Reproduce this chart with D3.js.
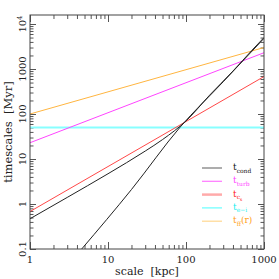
<!DOCTYPE html>
<html>
<head>
<meta charset="utf-8">
<script src="https://cdn.jsdelivr.net/npm/d3@7"></script>
<style>
  body { margin: 0; background: #fff; }
  text { font-family: "DejaVu Serif", "Liberation Serif", serif; }
</style>
</head>
<body>
<div id="chart"></div>
<script>
// chart size
var svgWidth = 279;
var svgHeight = 279;

var margin = { top: 15, right: 15, bottom: 30, left: 30 };
var chartWidth = svgWidth - margin.left - margin.right;
var chartHeight = svgHeight - margin.top - margin.bottom;

// data (scale in kpc, timescale in Myr)
var condScale = [1, 3, 10, 30, 50, 100, 200, 400, 700, 1000];
var condTime = [0.47, 1.4, 4.7, 15, 27, 70, 260, 900, 2600, 5000];
var cond2Scale = [4.6, 20, 84, 300, 1000];
var cond2Time = [0.1, 2.1, 51, 520, 4800];
var turbScale = [1, 1000];
var turbTime = [23, 2300];
var csScale = [1, 1000];
var csTime = [0.68, 680];
var eiScale = [1, 1000];
var eiTime = [50, 50];
var ffScale = [1, 1000];
var ffTime = [100, 3000];

var legendNames = ["cond", "turb", "cs", "e-i", "ff"];
var xTickValues = [1, 10, 100, 1000];
var xTickLabels = ["1", "10", "100", "1000"];
var yTickValues = [0.1, 1, 10, 100, 1000, 10000];
var yTickLabels = ["0.1", "1", "10", "100", "1000", "10⁴"];

var svg = d3.select("#chart")
  .append("svg")
  .attr("width", svgWidth)
  .attr("height", svgHeight);

var chartGroup = svg.append("g")
  .attr("transform", `translate(${margin.left}, ${margin.top})`);

var xScale = d3.scaleLog().domain([1, 1000]).range([0, chartWidth]);
var yScale = d3.scaleLog().domain([0.1, 15850]).range([chartHeight, 0]);

// minor tick lists
function minors(lo, hi) {
  var out = [];
  for (var p = Math.floor(Math.log10(lo)); p <= Math.ceil(Math.log10(hi)); p++) {
    for (var k = 2; k <= 9; k++) {
      var v = k * Math.pow(10, p);
      if (v > lo && v < hi) out.push(v);
    }
  }
  return out;
}
var xMinor = minors(1, 1000);
var yMinor = minors(0.1, 15850);

function addAxis(axis, ticks, size, transform) {
  var g = chartGroup.append("g")
    .attr("transform", transform)
    .call(axis.tickValues(ticks).tickSize(-size).tickFormat(""));
  g.select(".domain").remove();
  g.selectAll("line").attr("stroke", "#555");
  return g;
}

// ticks on all four sides, pointing inward
addAxis(d3.axisBottom(xScale), xTickValues, 7, `translate(0, ${chartHeight})`);
addAxis(d3.axisBottom(xScale), xMinor, 4, `translate(0, ${chartHeight})`);
addAxis(d3.axisTop(xScale), xTickValues, 7, "translate(0, 0)");
addAxis(d3.axisTop(xScale), xMinor, 4, "translate(0, 0)");
addAxis(d3.axisLeft(yScale), yTickValues, 6, "translate(0, 0)");
addAxis(d3.axisLeft(yScale), yMinor, 3.5, "translate(0, 0)");
addAxis(d3.axisRight(yScale), yTickValues, 6, `translate(${chartWidth}, 0)`);
addAxis(d3.axisRight(yScale), yMinor, 3.5, `translate(${chartWidth}, 0)`);

// lines
var line = d3.line()
  .x(d => xScale(d[0]))
  .y(d => yScale(d[1]))
  .curve(d3.curveMonotoneX);

chartGroup.append("clipPath").attr("id", "clip")
  .append("rect").attr("width", chartWidth).attr("height", chartHeight);

var series = [
  { x: eiScale, y: eiTime, color: "#88ffff", width: 2 },
  { x: ffScale, y: ffTime, color: "#ffb540", width: 1 },
  { x: turbScale, y: turbTime, color: "#ff44ff", width: 1 },
  { x: csScale, y: csTime, color: "#ff4848", width: 1 },
  { x: condScale, y: condTime, color: "#222", width: 1 },
  { x: cond2Scale, y: cond2Time, color: "#222", width: 1 }
];

series.forEach(function(s) {
  chartGroup.append("path")
    .datum(s.x.map((v, i) => [v, s.y[i]]))
    .attr("clip-path", "url(#clip)")
    .attr("fill", "none")
    .attr("stroke", s.color)
    .attr("stroke-width", s.width)
    .attr("d", line);
});

// frame
chartGroup.append("rect")
  .attr("width", chartWidth)
  .attr("height", chartHeight)
  .attr("fill", "none")
  .attr("stroke", "#444")
  .attr("stroke-width", 1);

// tick labels
chartGroup.selectAll(".xlab")
  .data(xTickValues)
  .enter().append("text")
  .attr("x", d => xScale(d))
  .attr("y", chartHeight + 14)
  .attr("text-anchor", "middle")
  .attr("font-size", 10)
  .attr("fill", "#222")
  .text((d, i) => xTickLabels[i]);

chartGroup.selectAll(".ylab")
  .data(yTickValues)
  .enter().append("text")
  .attr("transform", d => `translate(-4, ${yScale(d)}) rotate(-90)`)
  .attr("text-anchor", "middle")
  .attr("font-size", 10)
  .attr("fill", "#222")
  .each(function(d, i) {
    var t = d3.select(this);
    if (d === 10000) {
      t.append("tspan").text("10");
      t.append("tspan").attr("dy", -4).attr("font-size", 7).text("4");
    } else {
      t.text(yTickLabels[i]);
    }
  });

// axis titles
svg.append("text")
  .attr("x", margin.left + chartWidth / 2)
  .attr("y", 275)
  .attr("text-anchor", "middle")
  .attr("font-size", 11)
  .attr("fill", "#222")
  .attr("xml:space", "preserve")
  .text("scale  [kpc]");

svg.append("text")
  .attr("transform", `translate(12, ${margin.top + chartHeight / 2}) rotate(-90)`)
  .attr("text-anchor", "middle")
  .attr("font-size", 11.5)
  .attr("fill", "#222")
  .attr("xml:space", "preserve")
  .text("timescales  [Myr]");

// legend
var legendColors = ["#777", "#ff77ff", "#ffaaaa", "#66ffff", "#ffd890"];
var legendText = ["#111", "#ff44ff", "#ff2020", "#22eeee", "#ffa020"];
var legend = svg.append("g").attr("transform", "translate(202, 168)");
legendNames.forEach(function(name, i) {
  var row = legend.append("g").attr("transform", `translate(0, ${i * 13.3})`);
  row.append("line")
    .attr("x1", 0).attr("x2", 20)
    .attr("stroke", legendColors[i])
    .attr("stroke-width", i === 2 ? 2.5 : 1.2);
  var t = row.append("text")
    .attr("x", 31).attr("y", 2)
    .attr("font-size", 9)
    .attr("fill", legendText[i]);
  t.append("tspan").text("t");
  var sub = t.append("tspan").attr("dy", 2.5).attr("font-size", 6);
  if (name === "cs") {
    sub.text("c");
    t.append("tspan").attr("dy", 1.5).attr("font-size", 4.5).text("s");
  } else if (name === "e-i") {
    sub.text("e−i");
  } else {
    sub.text(name);
  }
  if (name === "ff") {
    t.append("tspan").attr("dy", -2.5).attr("font-size", 9).text("(r)");
  }
});
</script>
</body>
</html>
